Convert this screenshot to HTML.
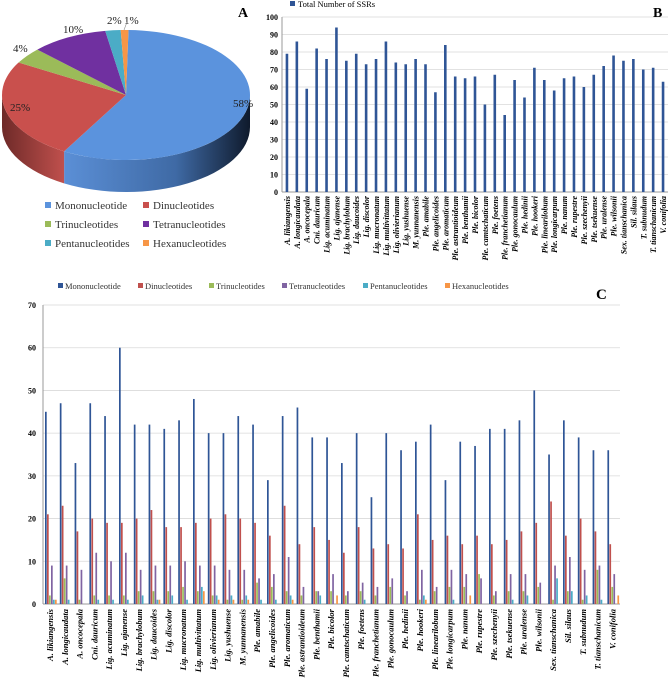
<!DOCTYPE html>
<html><head><meta charset="utf-8">
<style>
html,body{margin:0;padding:0;background:#fff;}
svg{display:block;font-family:"Liberation Serif",serif;}
</style></head>
<body>
<svg id="root" width="669" height="681" viewBox="0 0 669 681">
<defs>
<linearGradient id="sideBlue" x1="0" x2="1" y1="0" y2="0">
<stop offset="0" stop-color="#5b8fd6"/><stop offset="0.6" stop-color="#3f6aa5"/><stop offset="1" stop-color="#0f1a2c"/></linearGradient>
<linearGradient id="sideRed" x1="0" x2="1" y1="0" y2="0">
<stop offset="0" stop-color="#6e2a28"/><stop offset="1" stop-color="#c0504d"/></linearGradient>
</defs>
<g id="pie"></g>
<g id="pieLegend"></g>
<text x="238" y="17" font-size="14" font-weight="bold">A</text>
<g id="barB"></g>
<text x="653" y="17" font-size="14" font-weight="bold">B</text>
<g id="barC"></g>
<text x="596" y="299" font-size="15" font-weight="bold">C</text>
</svg>
<script>
const species = ["A. likiangensis","A. longicaudata","A. oncocepala","Cni. dauricum","Lig. acuminatum","Lig. ajanense","Lig. brachylobum","Lig. daucoides","Lig. discolor","Lig. mucronatum","Lig. multivittatum","Lig. olivierianum","Lig. yushuense","M. yunnanensis","Ple. amabile","Ple. angelicoides","Ple. aromaticum","Ple. astrantioideum","Ple. benthamii","Ple. bicolor","Ple. camtschaticum","Ple. foetens","Ple. franchetianum","Ple. gonocaulum","Ple. hedinii","Ple. hookeri","Ple. linearilobum","Ple. longicarpum","Ple. nanum","Ple. rupestre","Ple. szechenyii","Ple. tsekuense","Ple. uralense","Ple. wilsonii","Sex. tianschanica","Sil. silaus","T. subnudum","T. tianschanicum","V. conifolia"];
const totals = [79,86,59,82,76,94,75,79,73,76,86,74,73,76,73,57,84,66,65,66,50,67,44,64,54,71,64,58,65,66,60,67,72,78,75,76,70,71,63];
const bTicks = [0,10,20,30,40,50,60,70,80,90,100];
const typeNames = ["Mononucleotide","Dinucleotides","Trinucleotides","Tetranucleotides","Pentanucleotides","Hexanucleotides"];
const mono = [45,47,33,47,44,60,42,42,41,43,48,40,40,44,42,29,44,46,39,39,33,40,25,40,36,38,42,29,38,37,41,41,43,50,35,43,39,36,36];
const di = [21,23,17,20,19,19,20,22,18,18,19,20,21,20,19,16,23,14,18,15,12,18,13,14,13,21,15,16,14,16,14,15,17,19,24,16,20,17,14];
const tri = [2,6,1,2,2,2,3,3,3,4,3,2,1,1,5,4,3,2,3,3,2,3,2,4,2,1,3,4,4,7,2,3,3,4,1,3,1,8,4];
const tetra = [9,9,8,12,10,12,8,9,9,10,9,9,8,8,6,7,11,4,3,7,3,5,4,6,3,8,4,8,7,6,3,7,7,5,9,11,8,9,7];
const penta = [1,1,0,1,1,1,2,1,2,1,4,2,2,2,1,1,2,0,2,0,0,1,0,0,0,2,0,1,0,0,0,1,2,0,6,3,2,1,0];
const hexa = [1,0,0,0,0,0,0,1,0,0,3,1,1,1,0,0,1,0,0,2,0,0,0,0,0,1,0,0,2,0,0,0,0,0,0,0,0,0,2];
const cTicks = [0,10,20,30,40,50,60,70];
const piePct = [58,25,4,10,2,1];
const pieColors = ["#5b93dd","#c9504d","#9bbb59","#7030a0","#4bacc6","#f79646"];
const barColors = ["#2f5596","#c0504d","#9bbb59","#8064a2","#4bacc6","#f79646"];
const NS="http://www.w3.org/2000/svg";
function mk(tag,attrs,parent){const e=document.createElementNS(NS,tag);for(const k in attrs)e.setAttribute(k,attrs[k]);parent.appendChild(e);return e;}

// ---- Pie ----
const pie=document.getElementById('pie');
const cx=126,cy=95,rx=124,ry=65,depth=32;
let total=piePct.reduce((a,b)=>a+b,0);
let ang=-Math.PI/2+0.02;
const slices=[];
piePct.forEach((v,i)=>{const a0=ang,a1=ang+v/total*2*Math.PI;slices.push([a0,a1]);ang=a1;});
function pt(a,dy){return [cx+rx*Math.cos(a),cy+ry*Math.sin(a)+(dy||0)];}
// sides (front visible part: angles between 0 and PI)
slices.forEach(([a0,a1],i)=>{
  const s=Math.max(a0,0), e=Math.min(a1,Math.PI);
  const s2=Math.max(a0,2*Math.PI), e2=Math.min(a1,3*Math.PI);
  [[s,e],[s2,e2]].forEach(([p,q])=>{
    if(q<=p)return;
    const A=pt(p),B=pt(q),C=pt(q,depth),D=pt(p,depth);
    const side=mk('path',{d:`M${A} A${rx},${ry} 0 0 1 ${B} L${C} A${rx},${ry} 0 0 0 ${D} Z`,fill:i==0?'url(#sideBlue)':(i==1?'url(#sideRed)':pieColors[i])},pie);
    
    
  });
});
slices.forEach(([a0,a1],i)=>{
  const A=pt(a0),B=pt(a1);const large=(a1-a0)>Math.PI?1:0;
  const p=mk('path',{d:`M${cx},${cy} L${A} A${rx},${ry} 0 ${large} 1 ${B} Z`,fill:pieColors[i]},pie);
  
  
});
const pieLabelPos=[[233,107],[10,111],[13,52],[63,33],[107,24],[124,24]];
piePct.forEach((v,i)=>{
  const t=mk('text',{x:pieLabelPos[i][0],y:pieLabelPos[i][1],'font-size':11,fill:'#222'},pie);
  t.textContent=v+'%';
  
  
});
mk('line',{x1:127,y1:22,x2:124,y2:30,stroke:'#888','stroke-width':0.6},pie);
const pl=document.getElementById('pieLegend');
const plPos=[[45,209],[143,209],[45,228],[143,228],[45,247],[143,247]];
typeNames.forEach((n,i)=>{
  const r=mk('rect',{x:plPos[i][0],y:plPos[i][1]-7,width:6,height:6,fill:pieColors[i]},pl);
  
  
  const t=mk('text',{x:plPos[i][0]+10,y:plPos[i][1],'font-size':11,fill:'#333'},pl);
  t.textContent=n;
  
  
});

// ---- Bar B ----
const gB=document.getElementById('barB');
const bx0=282,bx1=668,by0=192,by1=17;
const yB=v=>by0-(v/100)*(by0-by1);
const stepB=(bx1-bx0)/species.length;
bTicks.forEach(t=>{
  if(t>0){const l=mk('line',{x1:bx0,x2:bx1,y1:yB(t),y2:yB(t),stroke:'#d9d9d9','stroke-width':0.8},gB);
  
  }
  const tx=mk('text',{x:bx0-4,y:yB(t)+3,'font-size':8,'font-weight':'bold','text-anchor':'end'},gB);
  tx.textContent=t;
  
  
});
mk('line',{x1:bx0,x2:bx0,y1:by1,y2:by0,stroke:'#999'},gB);
mk('line',{x1:bx0,x2:bx1,y1:by0,y2:by0,stroke:'#999'},gB);
totals.forEach((v,i)=>{
  const x=bx0+stepB*(i+0.5);
  const r=mk('rect',{x:x-1.3,y:yB(v),width:2.6,height:by0-yB(v),fill:'#2f5596'},gB);
  
  
  const t=mk('text',{transform:`translate(${x+3},${by0+4}) rotate(-90)`,'font-size':8,'font-style':'italic','font-weight':'bold','text-anchor':'end'},gB);
  t.textContent=species[i];
  
  
});
const lbr=mk('rect',{x:290,y:1,width:5,height:5,fill:'#2f5596'},gB);


const lbt=mk('text',{x:298,y:7,'font-size':8.5},gB);
lbt.textContent='Total Number of SSRs';



// ---- Bar C ----
const gC=document.getElementById('barC');
const cx0=43,cx1=620,cy0=604,cy1=305;
const yC=v=>cy0-(v/70)*(cy0-cy1);
const stepC=14.8;
cTicks.forEach(t=>{
  if(t>0){const l=mk('line',{x1:cx0,x2:cx1,y1:yC(t),y2:yC(t),stroke:'#d9d9d9','stroke-width':0.8},gC);
  
  }
  const tx=mk('text',{x:cx0-7,y:yC(t)+3,'font-size':8,'font-weight':'bold','text-anchor':'end'},gC);
  tx.textContent=t;
  
  
});
mk('line',{x1:cx0,x2:cx0,y1:cy1,y2:cy0,stroke:'#999'},gC);
mk('line',{x1:cx0,x2:cx1,y1:cy0,y2:cy0,stroke:'#999'},gC);
const seriesC=[mono,di,tri,tetra,penta,hexa];
species.forEach((s,i)=>{
  const gx=cx0+2+stepC*i;
  seriesC.forEach((arr,k)=>{
    const v=arr[i]; if(!v)return;
    const r=mk('rect',{x:gx+k*2,y:yC(v),width:1.7,height:cy0-yC(v),fill:barColors[k]},gC);
    
    
  });
  const t=mk('text',{transform:`translate(${gx+8},${cy0+5}) rotate(-90)`,'font-size':8.5,'font-style':'italic','font-weight':'bold','text-anchor':'end'},gC);
  t.textContent=s;
  
  
});
const lcx=[58,138,209,282,363,445];
typeNames.forEach((n,i)=>{
  const r=mk('rect',{x:lcx[i],y:283,width:5,height:5,fill:barColors[i]},gC);
  
  
  const t=mk('text',{x:lcx[i]+7,y:289,'font-size':8.5,fill:'#333'},gC);
  t.textContent=n;
  
  
});
</script>
</body></html>
